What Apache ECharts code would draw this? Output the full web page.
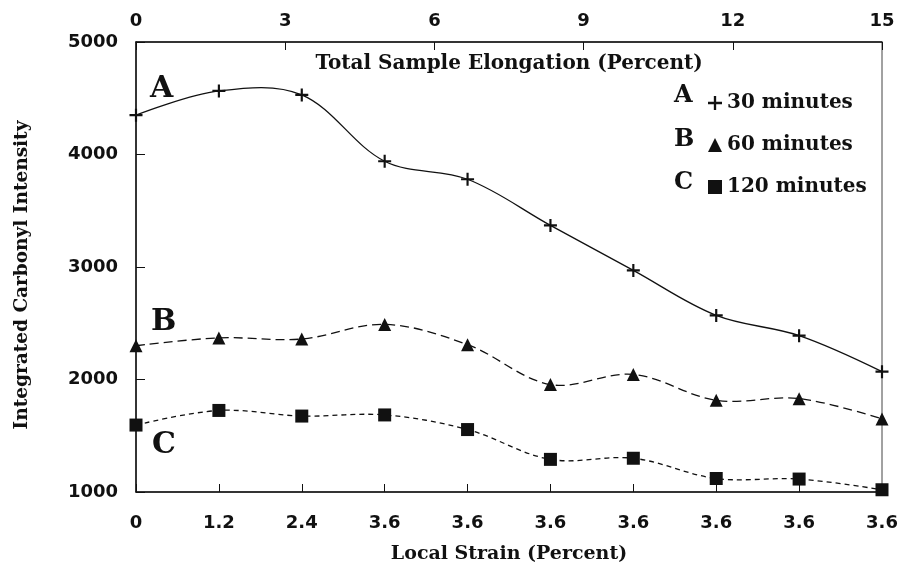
<!DOCTYPE html>
<html>
<head>
<meta charset="utf-8">
<script src="https://cdn.jsdelivr.net/npm/echarts@6/dist/echarts.min.js"></script>
<style>
  html, body { margin: 0; padding: 0; background: #fff; }
  #chart { width: 900px; height: 564px; }
</style>
</head>
<body>
<div id="chart"></div>
<script>
  // bottom axis labels (local strain), as printed
  const strainLabels = ['0', '1.2', '2.4', '3.6', '3.6', '3.6', '3.6', '3.6', '3.6', '3.6'];
  // series values
  const seriesA = [4350, 4565, 4530, 3940, 3780, 3370, 2970, 2570, 2390, 2070];
  const seriesB = [2300, 2370, 2360, 2490, 2310, 1955, 2045, 1815, 1830, 1650];
  const seriesC = [1595, 1725, 1675, 1685, 1555, 1290, 1300, 1120, 1115, 1020];
  const seriesNames = ['30 minutes', '60 minutes', '120 minutes'];
  const seriesLetters = ['A', 'B', 'C'];

  const plus = 'path://M5,0H7V5H12V7H7V12H5V7H0V5H5Z';
  const tickFont = { fontFamily: 'DejaVu Sans', fontWeight: 'bold', fontSize: 18, color: '#111' };
  const serifBold = { fontFamily: 'DejaVu Serif', fontWeight: 'bold', color: '#111' };

  // smooth curve through the points, drawn once per series (the plain line
  // smoothing clamps tangents, the figure overshoots a bit)
  function curve(values, dash) {
    return {
      type: 'custom',
      xAxisIndex: 0,
      data: values.map((v, i) => [i, v]),
      encode: { x: 0, y: 1 },
      silent: true,
      z: 1,
      renderItem: function (params, api) {
        if (params.dataIndex !== 0) return;
        const pts = values.map((v, i) => api.coord([i, v]));
        return {
          type: 'polyline',
          shape: { points: pts, smooth: 0.35 },
          style: { stroke: '#111', fill: null, lineWidth: 1.3, lineDash: dash }
        };
      }
    };
  }

  function marks(name, values, symbol) {
    return {
      name: name,
      type: 'line',
      xAxisIndex: 0,
      data: values,
      symbol: symbol,
      symbolSize: 13,
      z: 3,
      itemStyle: { color: '#111' },
      lineStyle: { opacity: 0 }
    };
  }

  const mychart = echarts.init(document.getElementById('chart'));

  mychart.setOption({
    animation: false,
    backgroundColor: '#fff',
    grid: {
      left: 136, right: 18, top: 42, bottom: 72,
      outerBoundsMode: 'none',
      show: true, borderColor: '#444', borderWidth: 1
    },
    legend: {
      orient: 'vertical',
      left: 703,
      top: 88,
      itemWidth: 14,
      itemHeight: 14,
      itemGap: 22,
      textStyle: { ...serifBold, fontSize: 20 },
      data: [
        { name: seriesNames[0], icon: plus },
        { name: seriesNames[1], icon: 'triangle' },
        { name: seriesNames[2], icon: 'rect' }
      ]
    },
    graphic: [
      { type: 'text', left: 150, top: 74, style: { text: seriesLetters[0], font: 'bold 30px "DejaVu Serif"', fill: '#111' } },
      { type: 'text', left: 151, top: 307, style: { text: seriesLetters[1], font: 'bold 30px "DejaVu Serif"', fill: '#111' } },
      { type: 'text', left: 152, top: 430, style: { text: seriesLetters[2], font: 'bold 30px "DejaVu Serif"', fill: '#111' } },
      { type: 'text', left: 674, top: 84, style: { text: seriesLetters[0], font: 'bold 24px "DejaVu Serif"', fill: '#111' } },
      { type: 'text', left: 674, top: 128, style: { text: seriesLetters[1], font: 'bold 24px "DejaVu Serif"', fill: '#111' } },
      { type: 'text', left: 674, top: 171, style: { text: seriesLetters[2], font: 'bold 24px "DejaVu Serif"', fill: '#111' } }
    ],
    xAxis: [
      {
        type: 'category',
        data: strainLabels,
        boundaryGap: false,
        position: 'bottom',
        name: 'Local Strain (Percent)',
        nameLocation: 'middle',
        nameGap: 53,
        nameTextStyle: { ...serifBold, fontSize: 19 },
        axisLine: { lineStyle: { color: '#111', width: 1.5 } },
        axisTick: { inside: true, length: 8, alignWithLabel: true, lineStyle: { color: '#111' } },
        axisLabel: { ...tickFont, margin: 22, interval: 0 },
        splitLine: { show: false }
      },
      {
        type: 'value',
        position: 'top',
        min: 0,
        max: 15,
        interval: 3,
        name: 'Total Sample Elongation (Percent)',
        nameLocation: 'middle',
        nameGap: -32,
        nameTextStyle: { ...serifBold, fontSize: 20 },
        axisLine: { lineStyle: { color: '#111', width: 1.5 } },
        axisTick: { inside: true, length: 8, lineStyle: { color: '#111' } },
        axisLabel: { ...tickFont, margin: 12 },
        splitLine: { show: false }
      }
    ],
    yAxis: {
      type: 'value',
      min: 1000,
      max: 5000,
      interval: 1000,
      name: 'Integrated Carbonyl Intensity',
      nameLocation: 'middle',
      nameGap: 104,
      nameTextStyle: { ...serifBold, fontSize: 18.5, padding: [0, 16, 0, 0] },
      axisLine: { show: true, lineStyle: { color: '#111', width: 1.5 } },
      axisTick: { show: true, inside: true, length: 9, lineStyle: { color: '#111' } },
      axisLabel: { ...tickFont, margin: 18, formatter: (v) => String(v) },
      splitLine: { show: false }
    },
    series: [
      curve(seriesA, null),
      curve(seriesB, [9, 5]),
      curve(seriesC, [5, 4]),
      marks(seriesNames[0], seriesA, plus),
      marks(seriesNames[1], seriesB, 'triangle'),
      marks(seriesNames[2], seriesC, 'rect')
    ]
  });
</script>
</body>
</html>
